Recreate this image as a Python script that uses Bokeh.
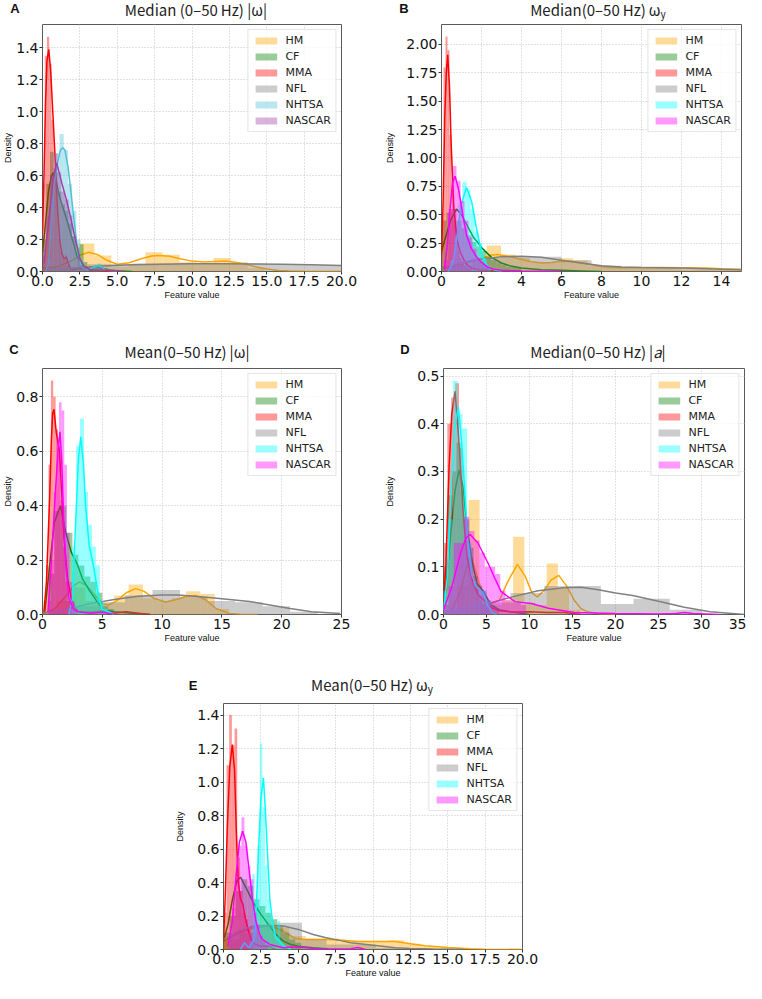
from bokeh.plotting import figure
from bokeh.models import Range1d, FixedTicker, PrintfTickFormatter, Legend, LegendItem, Div
from bokeh.layouts import column, row, Spacer
from bokeh.embed import file_html
from bokeh.resources import INLINE

SERIES = ["HM", "CF", "MMA", "NFL", "NHTSA", "NASCAR"]
COLORS_A = ["#FFA500", "#008000", "#FF0000", "#808080", "#4FC1D6", "#A040A8"]
COLORS = ["#FFA500", "#008000", "#FF0000", "#808080", "#00FFFF", "#FF00FF"]

# ---------------- Panel A : Median (0-50 Hz) |w| ----------------
A_XTICKS = [0, 2.5, 5, 7.5, 10, 12.5, 15, 17.5, 20]
A_YTICKS = [0, 0.2, 0.4, 0.6, 0.8, 1.0, 1.2, 1.4]
A_HM_edges = [0.05, 1.19, 2.33, 3.47, 4.61, 5.75, 6.89, 8.03, 9.17, 10.31, 11.45, 12.59, 13.73, 14.87]
A_HM_hist = [0.01, 0.03, 0.175, 0.10, 0.03, 0.04, 0.12, 0.105, 0.06, 0.05, 0.085, 0.06, 0.02]
A_HM_kx = [0, 1, 2, 2.6, 3.1, 3.7, 4.3, 5.0, 5.8, 6.6, 7.3, 7.8, 8.5, 9.2, 10.0, 10.8, 11.6, 12.2, 12.9, 13.6, 14.3, 15.0, 15.8, 16.5, 17.5, 20]
A_HM_ky = [0.02, 0.03, 0.07, 0.105, 0.12, 0.105, 0.07, 0.045, 0.055, 0.08, 0.097, 0.1, 0.095, 0.08, 0.065, 0.06, 0.063, 0.065, 0.058, 0.045, 0.028, 0.015, 0.007, 0.003, 0.001, 0.0]
A_CF_edges = [0, 0.25, 0.5, 0.75, 1.0, 1.25, 1.5, 1.75, 2.0, 2.25, 2.5, 2.75, 3.0, 3.25, 3.5, 3.75, 4.0]
A_CF_hist = [0.2, 0.55, 0.75, 0.62, 0.5, 0.42, 0.38, 0.3, 0.22, 0.15, 0.17, 0.06, 0.02, 0.02, 0.04, 0.04]
A_CF_kx = [0, 0.2, 0.4, 0.6, 0.75, 0.9, 1.1, 1.3, 1.5, 1.7, 1.9, 2.1, 2.3, 2.5, 2.8, 3.2, 3.6, 4.0, 4.5, 5.0, 6.0]
A_CF_ky = [0.12, 0.3, 0.5, 0.6, 0.62, 0.58, 0.48, 0.42, 0.36, 0.3, 0.23, 0.17, 0.1, 0.06, 0.03, 0.02, 0.025, 0.02, 0.01, 0.005, 0.0]
A_MMA_edges = [0, 0.15, 0.3, 0.45, 0.6, 0.75, 0.9, 1.05, 1.2, 1.35, 1.5, 1.65, 1.8, 1.95]
A_MMA_hist = [0.55, 1.35, 1.47, 1.3, 0.95, 0.65, 0.45, 0.2, 0.12, 0.08, 0.1, 0.04, 0.02]
A_MMA_kx = [0, 0.1, 0.2, 0.3, 0.42, 0.55, 0.7, 0.85, 1.0, 1.15, 1.3, 1.45, 1.6, 1.7, 1.85, 2.0, 2.5, 3.0, 3.5, 4.0, 5.0]
A_MMA_ky = [0.25, 0.6, 1.05, 1.32, 1.39, 1.25, 0.98, 0.7, 0.4, 0.2, 0.11, 0.08, 0.09, 0.06, 0.02, 0.01, 0.02, 0.01, 0.01, 0.0, 0.0]
A_NFL_edges = [0, 3, 6, 9, 12, 15, 18, 21]
A_NFL_hist = [0.02, 0.045, 0.05, 0.05, 0.05, 0.045, 0.04]
A_NFL_kx = [0, 2, 4, 6, 8, 10, 12, 14, 16, 18, 20]
A_NFL_ky = [0.01, 0.02, 0.035, 0.043, 0.046, 0.048, 0.048, 0.047, 0.045, 0.042, 0.038]
A_NHTSA_edges = [0.3, 0.58, 0.86, 1.14, 1.42, 1.7, 1.98, 2.26, 2.54, 2.82, 3.1, 3.38, 3.66, 3.94]
A_NHTSA_hist = [0.08, 0.45, 0.74, 0.86, 0.76, 0.55, 0.38, 0.2, 0.06, 0.02, 0.0, 0.04, 0.05]
A_NHTSA_kx = [0.2, 0.4, 0.6, 0.8, 1.0, 1.2, 1.36, 1.5, 1.7, 1.9, 2.1, 2.3, 2.5, 2.7, 3.0, 3.5, 3.8, 4.2, 5.0]
A_NHTSA_ky = [0.0, 0.05, 0.3, 0.55, 0.68, 0.76, 0.775, 0.76, 0.66, 0.5, 0.33, 0.17, 0.06, 0.02, 0.01, 0.03, 0.04, 0.01, 0.0]
A_NASCAR_edges = [0, 0.25, 0.5, 0.75, 1.0, 1.25, 1.5, 1.75, 2.0, 2.25, 2.5, 2.75, 3.0]
A_NASCAR_hist = [0.1, 0.35, 0.6, 0.74, 0.62, 0.5, 0.45, 0.35, 0.22, 0.1, 0.04, 0.02]
A_NASCAR_kx = [0.1, 0.4, 0.7, 0.95, 1.3, 1.6, 1.9, 2.2, 2.5, 2.8, 3.2, 4.0, 5.5]
A_NASCAR_ky = [0.05, 0.3, 0.58, 0.68, 0.55, 0.45, 0.33, 0.2, 0.08, 0.03, 0.01, 0.01, 0.0]

# ---------------- Panel B : Median (0-50 Hz) w_y ----------------
B_XTICKS = [0, 2, 4, 6, 8, 10, 12, 14]
B_YTICKS = [0, 0.25, 0.5, 0.75, 1.0, 1.25, 1.5, 1.75, 2.0]
B_HM_edges = [0.1, 0.82, 1.54, 2.26, 2.98, 3.7, 4.42, 5.14, 5.86, 6.58, 7.3, 8.02, 8.74, 9.46, 10.18, 10.9, 11.62, 12.34, 13.06, 13.78, 14.5, 15.22]
B_HM_hist = [0.05, 0.06, 0.1, 0.23, 0.15, 0.12, 0.08, 0.08, 0.117, 0.1, 0.05, 0.04, 0.04, 0.035, 0.035, 0.035, 0.02, 0.02, 0.02, 0.02, 0.015]
B_HM_kx = [0, 0.5, 1.0, 1.8, 2.5, 2.8, 3.3, 3.9, 4.5, 5.05, 5.5, 6.0, 6.5, 7.0, 7.6, 8.3, 9.0, 9.9, 11.0, 12.0, 13.2, 14.0, 15.0]
B_HM_ky = [0.03, 0.045, 0.06, 0.1, 0.145, 0.15, 0.135, 0.11, 0.085, 0.075, 0.08, 0.09, 0.088, 0.075, 0.055, 0.038, 0.034, 0.035, 0.035, 0.034, 0.03, 0.025, 0.02]
B_CF_edges = [0, 0.25, 0.5, 0.75, 1.0, 1.25, 1.5, 1.75, 2.0, 2.25, 2.5, 2.75, 3.0, 3.25, 3.5, 3.75, 4.0]
B_CF_hist = [0.45, 0.52, 0.55, 0.45, 0.38, 0.32, 0.26, 0.22, 0.18, 0.13, 0.1, 0.08, 0.06, 0.04, 0.04, 0.03]
B_CF_kx = [0, 0.2, 0.45, 0.75, 1.0, 1.3, 1.6, 1.8, 2.0, 2.5, 3.0, 3.4, 4.0, 5.0, 6.0, 7.0, 8.0]
B_CF_ky = [0.18, 0.3, 0.45, 0.55, 0.5, 0.4, 0.3, 0.26, 0.21, 0.125, 0.075, 0.05, 0.03, 0.015, 0.01, 0.005, 0.0]
B_MMA_edges = [0, 0.1, 0.2, 0.3, 0.4, 0.5, 0.6, 0.7, 0.8, 0.9, 1.0, 1.1, 1.2, 1.3, 1.4, 1.5]
B_MMA_hist = [0.5, 1.8, 2.07, 1.95, 1.2, 0.8, 0.45, 0.25, 0.18, 0.12, 0.08, 0.05, 0.04, 0.03, 0.02]
B_MMA_kx = [0, 0.08, 0.16, 0.24, 0.31, 0.4, 0.48, 0.61, 0.77, 0.94, 1.1, 1.27, 1.5, 2.0, 2.5, 3.0]
B_MMA_ky = [0.15, 0.6, 1.34, 1.75, 1.91, 1.63, 1.14, 0.58, 0.28, 0.17, 0.11, 0.06, 0.03, 0.01, 0.01, 0.0]
B_NFL_edges = [0, 1.5, 3.0, 4.5, 6.0, 7.5, 9.0, 10.5, 12.0, 13.5, 15.0]
B_NFL_hist = [0.05, 0.12, 0.13, 0.13, 0.1, 0.05, 0.04, 0.03, 0.02, 0.015]
B_NFL_kx = [0, 1, 2, 3, 4, 5, 6, 7, 8, 9, 10, 12, 14, 15]
B_NFL_ky = [0.02, 0.08, 0.11, 0.13, 0.135, 0.125, 0.1, 0.075, 0.05, 0.04, 0.035, 0.03, 0.02, 0.015]
B_NHTSA_edges = [0.25, 0.45, 0.65, 0.85, 1.05, 1.25, 1.45, 1.65, 1.85, 2.05, 2.25, 2.45]
B_NHTSA_hist = [0.02, 0.1, 0.3, 0.6, 0.79, 0.72, 0.55, 0.35, 0.25, 0.12, 0.05]
B_NHTSA_kx = [0.35, 0.6, 0.8, 1.0, 1.25, 1.5, 1.75, 2.0, 2.2, 2.4, 2.7, 3.0]
B_NHTSA_ky = [0.0, 0.1, 0.35, 0.6, 0.74, 0.62, 0.38, 0.17, 0.07, 0.03, 0.01, 0.0]
B_NASCAR_edges = [0.15, 0.35, 0.55, 0.75, 0.95, 1.15, 1.35, 1.55, 1.75, 1.95, 2.15, 2.35]
B_NASCAR_hist = [0.1, 0.55, 0.93, 0.8, 0.62, 0.45, 0.3, 0.2, 0.12, 0.08, 0.05]
B_NASCAR_kx = [0.15, 0.3, 0.4, 0.55, 0.68, 0.86, 1.1, 1.27, 1.5, 1.75, 2.0, 2.3, 2.6, 3.0, 4.0, 6.0]
B_NASCAR_ky = [0.02, 0.25, 0.5, 0.78, 0.84, 0.72, 0.46, 0.31, 0.2, 0.13, 0.08, 0.04, 0.02, 0.01, 0.005, 0.0]

# ---------------- Panel C : Mean (0-50 Hz) |w| ----------------
C_XTICKS = [0, 5, 10, 15, 20, 25]
C_YTICKS = [0, 0.2, 0.4, 0.6, 0.8]
C_HM_edges = [0, 1.2, 2.4, 3.6, 4.8, 6.0, 7.2, 8.4, 9.6, 10.8, 12.0, 13.2, 14.4, 15.6]
C_HM_hist = [0.01, 0.05, 0.1, 0.05, 0.04, 0.07, 0.11, 0.06, 0.05, 0.06, 0.085, 0.075, 0.02]
C_HM_kx = [0, 1, 2, 2.6, 3.1, 3.7, 4.4, 5.0, 5.5, 6.2, 7.0, 7.8, 8.5, 9.3, 10.3, 11.2, 12.0, 12.8, 13.6, 14.5, 15.6, 16.5, 18]
C_HM_ky = [0.0, 0.02, 0.07, 0.105, 0.12, 0.105, 0.07, 0.04, 0.035, 0.05, 0.08, 0.095, 0.085, 0.06, 0.046, 0.055, 0.066, 0.07, 0.055, 0.022, 0.004, 0.001, 0.0]
C_CF_edges = [0.5, 1.0, 1.5, 2.0, 2.5, 3.0, 3.5, 4.0, 4.5, 5.0, 5.5, 6.0]
C_CF_hist = [0.15, 0.38, 0.4, 0.3, 0.22, 0.18, 0.14, 0.12, 0.08, 0.03, 0.02]
C_CF_kx = [0.19, 0.6, 1.0, 1.5, 1.95, 2.4, 2.95, 3.35, 4.0, 4.6, 5.2, 6.0, 7.5, 9.0]
C_CF_ky = [0.01, 0.18, 0.34, 0.4, 0.3, 0.23, 0.18, 0.13, 0.083, 0.045, 0.015, 0.01, 0.005, 0.0]
C_MMA_edges = [0.1, 0.3, 0.5, 0.7, 0.9, 1.1, 1.3, 1.5, 1.7, 1.9, 2.1, 2.3, 2.5]
C_MMA_hist = [0.05, 0.18, 0.55, 0.86, 0.8, 0.68, 0.62, 0.42, 0.25, 0.12, 0.05, 0.03]
C_MMA_kx = [0.1, 0.33, 0.6, 0.74, 0.85, 0.96, 1.15, 1.3, 1.42, 1.6, 1.8, 2.1, 2.4, 2.7, 3.0, 4.0, 5.0, 6.0, 7.0, 8.0, 9.0]
C_MMA_ky = [0.0, 0.12, 0.43, 0.64, 0.74, 0.754, 0.67, 0.63, 0.6, 0.45, 0.28, 0.133, 0.06, 0.025, 0.01, 0.008, 0.012, 0.005, 0.01, 0.005, 0.0]
C_NFL_edges = [0, 2.3, 4.6, 6.9, 9.2, 11.5, 13.8, 16.1, 18.4, 20.7, 23.0]
C_NFL_hist = [0.01, 0.03, 0.045, 0.07, 0.09, 0.065, 0.05, 0.045, 0.03, 0.01]
C_NFL_kx = [0, 2, 4, 6, 8, 10, 11.3, 13, 15, 17.3, 19, 20.7, 22.5, 24.9]
C_NFL_ky = [0.005, 0.02, 0.04, 0.055, 0.067, 0.072, 0.072, 0.066, 0.058, 0.048, 0.035, 0.022, 0.01, 0.004]
C_NHTSA_edges = [2.15, 2.48, 2.81, 3.14, 3.47, 3.8, 4.13, 4.46, 4.79, 5.12, 5.45]
C_NHTSA_hist = [0.02, 0.25, 0.62, 0.72, 0.45, 0.33, 0.25, 0.18, 0.05, 0.02]
C_NHTSA_kx = [2.2, 2.5, 2.8, 3.0, 3.2, 3.43, 3.6, 3.9, 4.3, 4.7, 5.0, 5.5, 6.0]
C_NHTSA_ky = [0.0, 0.06, 0.365, 0.57, 0.653, 0.55, 0.4, 0.255, 0.17, 0.06, 0.02, 0.01, 0.0]
C_NASCAR_edges = [0.5, 0.72, 0.94, 1.16, 1.38, 1.6, 1.82, 2.04, 2.26, 2.48, 2.7, 2.92]
C_NASCAR_hist = [0.05, 0.2, 0.45, 0.65, 0.78, 0.75, 0.55, 0.3, 0.12, 0.05, 0.02]
C_NASCAR_kx = [0.46, 0.74, 1.01, 1.29, 1.46, 1.6, 1.76, 1.95, 2.2, 2.6, 3.0, 4.0, 5.0, 6.0]
C_NASCAR_ky = [0.01, 0.19, 0.4, 0.6, 0.671, 0.575, 0.365, 0.18, 0.06, 0.02, 0.01, 0.005, 0.008, 0.0]

# ---------------- Panel D : Median (0-50 Hz) |a| ----------------
D_XTICKS = [0, 5, 10, 15, 20, 25, 30, 35]
D_YTICKS = [0, 0.1, 0.2, 0.3, 0.4, 0.5]
D_HM_edges = [0.3, 1.6, 2.9, 4.2, 5.5, 6.8, 8.1, 9.4, 10.7, 12.0, 13.3, 14.6, 15.9]
D_HM_hist = [0.01, 0.06, 0.24, 0.03, 0.02, 0.03, 0.163, 0.025, 0.02, 0.107, 0.055, 0.01]
D_HM_kx = [0, 1, 2, 2.7, 3.3, 4.0, 4.8, 5.5, 6.5, 7.5, 8.6, 9.5, 10.3, 10.9, 11.7, 12.5, 13.4, 14.3, 15.2, 16.0, 16.7, 18.0, 20.0]
D_HM_ky = [0.0, 0.01, 0.05, 0.1, 0.118, 0.075, 0.03, 0.022, 0.03, 0.07, 0.105, 0.08, 0.045, 0.037, 0.05, 0.072, 0.082, 0.06, 0.03, 0.012, 0.006, 0.002, 0.0]
D_CF_edges = [0, 0.5, 1.0, 1.5, 2.0, 2.5, 3.0, 3.5, 4.0, 4.5, 5.0, 5.5, 6.0, 6.5]
D_CF_hist = [0.1, 0.25, 0.3, 0.36, 0.26, 0.2, 0.14, 0.08, 0.06, 0.05, 0.03, 0.02, 0.01]
D_CF_kx = [0, 0.27, 0.84, 1.34, 1.8, 2.26, 2.76, 3.34, 3.9, 4.6, 5.5, 6.5, 8.0, 10.0]
D_CF_ky = [0.02, 0.05, 0.17, 0.26, 0.303, 0.27, 0.18, 0.11, 0.065, 0.05, 0.02, 0.01, 0.005, 0.0]
D_MMA_edges = [0, 0.45, 0.9, 1.35, 1.8, 2.25, 2.7, 3.15, 3.6, 4.05, 4.5, 4.95, 5.4]
D_MMA_hist = [0.15, 0.4, 0.455, 0.485, 0.35, 0.2, 0.12, 0.08, 0.06, 0.04, 0.02, 0.015]
D_MMA_kx = [0, 0.27, 0.65, 0.96, 1.34, 1.73, 2.0, 2.38, 2.76, 3.15, 3.53, 4.1, 4.7, 5.5, 6.5, 8.0, 10.0, 12.0, 14.0, 16.0]
D_MMA_ky = [0.03, 0.1, 0.31, 0.42, 0.468, 0.38, 0.3, 0.19, 0.12, 0.085, 0.06, 0.04, 0.03, 0.015, 0.008, 0.005, 0.006, 0.004, 0.004, 0.0]
D_NFL_edges = [0, 3.9, 7.8, 11.7, 14.9, 18.3, 22.1, 26.3, 30.1]
D_NFL_hist = [0.008, 0.025, 0.045, 0.06, 0.06, 0.022, 0.033, 0.01]
D_NFL_kx = [0, 2, 5, 8, 11, 14, 16, 18, 20, 22, 25, 28, 31, 35]
D_NFL_ky = [0.003, 0.01, 0.022, 0.037, 0.05, 0.056, 0.057, 0.052, 0.045, 0.04, 0.028, 0.015, 0.006, 0.0]
D_NHTSA_edges = [0.0, 0.55, 1.1, 1.65, 2.2, 2.75, 3.3, 3.85, 4.4, 4.95, 5.5]
D_NHTSA_hist = [0.05, 0.2, 0.49, 0.42, 0.39, 0.15, 0.07, 0.05, 0.05, 0.03]
D_NHTSA_kx = [0, 0.46, 0.84, 1.23, 1.73, 2.11, 2.5, 2.88, 3.26, 3.72, 4.3, 4.6, 5.1, 5.7, 6.2]
D_NHTSA_ky = [0.01, 0.08, 0.25, 0.385, 0.436, 0.36, 0.25, 0.146, 0.085, 0.06, 0.05, 0.045, 0.02, 0.003, 0.0]
D_NASCAR_edges = [0, 0.6, 1.2, 1.8, 2.4, 3.0, 3.6, 4.2, 4.8, 5.4, 6.0, 6.6, 7.2, 7.8, 8.4, 9.0, 9.6]
D_NASCAR_hist = [0.02, 0.06, 0.15, 0.15, 0.205, 0.175, 0.155, 0.13, 0.1, 0.1, 0.085, 0.05, 0.03, 0.025, 0.025, 0.02]
D_NASCAR_kx = [0, 1, 2, 2.6, 3.1, 4.0, 5.2, 6.0, 6.7, 8.3, 10.2, 12.2, 15.2, 20, 25, 27, 28, 29, 32]
D_NASCAR_ky = [0.01, 0.06, 0.13, 0.16, 0.168, 0.15, 0.107, 0.075, 0.048, 0.027, 0.023, 0.013, 0.004, 0.002, 0.001, 0.002, 0.004, 0.002, 0.0]

# ---------------- Panel E : Mean (0-50 Hz) w_y ----------------
E_XTICKS = [0, 2.5, 5, 7.5, 10, 12.5, 15, 17.5, 20]
E_YTICKS = [0, 0.2, 0.4, 0.6, 0.8, 1.0, 1.2, 1.4]
E_HM_edges = [0, 1.1, 2.2, 3.3, 4.4, 5.5, 6.6, 7.7, 8.8, 9.9, 11.0, 12.1, 13.2, 14.3, 15.4, 16.5]
E_HM_hist = [0.06, 0.1, 0.14, 0.13, 0.08, 0.065, 0.065, 0.05, 0.045, 0.05, 0.055, 0.035, 0.02, 0.01, 0.005]
E_HM_kx = [0, 1, 2, 3, 3.5, 4.2, 4.8, 5.5, 7, 8, 9, 10, 11.5, 12.5, 13.5, 15, 16.5, 17.5, 20]
E_HM_ky = [0.05, 0.1, 0.13, 0.14, 0.13, 0.1, 0.065, 0.06, 0.06, 0.055, 0.048, 0.048, 0.048, 0.035, 0.022, 0.012, 0.005, 0.002, 0.0]
E_CF_edges = [0, 0.4, 0.8, 1.2, 1.6, 2.0, 2.4, 2.8, 3.2, 3.6, 4.0, 4.4, 4.8, 5.2]
E_CF_hist = [0.1, 0.2, 0.35, 0.42, 0.38, 0.3, 0.26, 0.22, 0.18, 0.14, 0.1, 0.06, 0.04]
E_CF_kx = [0, 0.3, 0.6, 0.9, 1.14, 1.5, 2.0, 2.5, 3.0, 3.5, 4.0, 4.5, 5.0, 6.0, 7.0]
E_CF_ky = [0.05, 0.15, 0.3, 0.41, 0.432, 0.37, 0.28, 0.21, 0.15, 0.09, 0.05, 0.03, 0.02, 0.01, 0.005]
E_MMA_edges = [0.02, 0.2, 0.38, 0.56, 0.74, 0.92, 1.1, 1.28, 1.46, 1.64, 1.82, 2.0]
E_MMA_hist = [0.22, 1.1, 1.4, 1.22, 1.32, 0.55, 0.35, 0.22, 0.18, 0.12, 0.05]
E_MMA_kx = [0, 0.11, 0.26, 0.42, 0.59, 0.74, 0.86, 0.99, 1.14, 1.3, 1.43, 1.58, 1.7, 1.9, 2.13, 2.5, 3.0, 3.5]
E_MMA_ky = [0.05, 0.3, 0.74, 1.09, 1.224, 1.07, 0.7, 0.4, 0.3, 0.27, 0.2, 0.14, 0.1, 0.05, 0.03, 0.02, 0.02, 0.0]
E_NFL_edges = [0.3, 1.95, 3.6, 5.25, 6.9, 8.55, 10.2, 11.85]
E_NFL_hist = [0.1, 0.14, 0.16, 0.06, 0.03, 0.03, 0.01]
E_NFL_kx = [0, 1, 2, 3, 4, 5, 6, 6.8, 8, 8.5, 10, 11.5, 12.5, 14, 16]
E_NFL_ky = [0.06, 0.11, 0.14, 0.145, 0.14, 0.12, 0.09, 0.072, 0.05, 0.04, 0.025, 0.01, 0.006, 0.003, 0.001]
E_NHTSA_edges = [1.75, 1.92, 2.09, 2.26, 2.43, 2.6, 2.77, 2.94, 3.11, 3.28, 3.45, 3.62, 3.79, 3.96, 4.13]
E_NHTSA_hist = [0.05, 0.45, 0.3, 0.62, 1.23, 0.85, 0.5, 0.3, 0.2, 0.12, 0.08, 0.17, 0.05, 0.03]
E_NHTSA_kx = [1.14, 1.4, 1.7, 2.07, 2.17, 2.35, 2.5, 2.67, 2.8, 2.96, 3.1, 3.3, 3.5, 3.83, 4.05, 4.5]
E_NHTSA_ky = [0.0, 0.04, 0.01, 0.06, 0.2, 0.6, 0.9, 1.025, 0.83, 0.54, 0.3, 0.15, 0.07, 0.04, 0.02, 0.0]
E_NASCAR_edges = [0.4, 0.6, 0.8, 1.0, 1.2, 1.4, 1.6, 1.8, 2.0, 2.2, 2.4, 2.6, 2.8, 3.0]
E_NASCAR_hist = [0.1, 0.25, 0.45, 0.62, 0.79, 0.62, 0.5, 0.42, 0.22, 0.15, 0.08, 0.05, 0.03]
E_NASCAR_kx = [0.3, 0.59, 0.81, 1.06, 1.28, 1.5, 1.72, 1.95, 2.17, 2.4, 2.6, 3.1, 4.0, 4.5, 5.5, 6.5, 8.5, 9.0, 9.5]
E_NASCAR_ky = [0.02, 0.17, 0.41, 0.64, 0.706, 0.64, 0.47, 0.29, 0.17, 0.095, 0.06, 0.03, 0.01, 0.015, 0.01, 0.003, 0.005, 0.012, 0.0]

SUB = "<sub style=\"font-size:10px;line-height:0;vertical-align:-2px;\">y</sub>"
TITLES = {
    "A": "Median (0\u201350\u2009Hz) |\u03c9|",
    "B": "Median(0\u201350\u2009Hz)\u2009\u03c9" + SUB,
    "C": "Mean(0\u201350\u2009Hz)\u2009|\u03c9|",
    "D": "Median(0\u201350\u2009Hz)\u2009|<i>a</i>|",
    "E": "Mean(0\u201350\u2009Hz)\u2009\u03c9" + SUB,
}


def series_of(prefix):
    g = globals()
    return [(g[f"{prefix}_{s}_edges"], g[f"{prefix}_{s}_hist"],
             g[f"{prefix}_{s}_kx"], g[f"{prefix}_{s}_ky"]) for s in SERIES]


def panel(prefix, colors, xr, yr, xticks, yticks, xfmt, yfmt,
          left, fw, right, top, fh, bottom, dens_standoff):
    p = figure(width=left + fw + right, height=top + fh + bottom,
               x_range=Range1d(*xr), y_range=Range1d(*yr),
               min_border_left=left, min_border_right=right,
               min_border_top=top, min_border_bottom=bottom,
               output_backend="svg", toolbar_location=None, title=None)
    items = []
    for (edges, hist, kx, ky), name, col in zip(series_of(prefix), SERIES, colors):
        n = min(len(edges) - 1, len(hist))
        q = p.quad(left=edges[:n], right=edges[1:n + 1], top=hist[:n], bottom=0,
                   fill_color=col, fill_alpha=0.4, line_color=None)
        m = min(len(kx), len(ky))
        p.line(kx[:m], ky[:m], line_color=col, line_width=1.5)
        items.append(LegendItem(label=name, renderers=[q]))

    leg = Legend(items=items, location="top_right", margin=5, padding=4,
                 spacing=3, glyph_width=27, glyph_height=9, label_height=12,
                 label_standoff=6, label_text_font="DejaVu Sans",
                 label_text_font_size="11px", label_text_color="#222222",
                 border_line_color="#cccccc", border_line_width=1,
                 background_fill_color="white", background_fill_alpha=0.8)
    p.add_layout(leg)

    xt = FixedTicker(ticks=xticks)
    yt = FixedTicker(ticks=yticks)
    p.xaxis.ticker = xt
    p.yaxis.ticker = yt
    p.xgrid.ticker = xt
    p.ygrid.ticker = yt
    p.xaxis.formatter = PrintfTickFormatter(format=xfmt)
    p.yaxis.formatter = PrintfTickFormatter(format=yfmt)
    for ax in (p.xaxis[0], p.yaxis[0]):
        ax.axis_line_color = None
        ax.major_tick_in = 0
        ax.major_tick_out = 3
        ax.major_tick_line_color = "#333333"
        ax.minor_tick_line_color = None
        ax.major_label_standoff = 1
        ax.major_label_text_font = "DejaVu Sans"
        ax.major_label_text_font_size = "14px"
        ax.major_label_text_color = "#111111"
        ax.axis_label_text_font = "Liberation Sans"
        ax.axis_label_text_font_size = "9px"
        ax.axis_label_text_font_style = "normal"
        ax.axis_label_text_color = "#111111"
    p.xaxis.axis_label = "Feature value"
    p.xaxis.axis_label_standoff = 1
    p.yaxis.axis_label = "Density"
    p.yaxis.axis_label_standoff = dens_standoff

    for g in (p.xgrid[0], p.ygrid[0]):
        g.grid_line_color = "#c4c4c4"
        g.grid_line_dash = "1 2"
        g.grid_line_width = 1
    p.outline_line_color = "#5a5a5a"
    p.outline_line_width = 1
    return p


def header(height, entries):
    """entries: (kind, text, centre x on page, centre y within the strip)"""
    spans = []
    for kind, text, cx, cy in entries:
        if kind == "letter":
            font = "font-family:'Liberation Sans',Arial,sans-serif;font-weight:bold;font-size:13px;color:#111;"
        else:
            font = "font-family:'Noto Sans CJK SC','Noto Sans',sans-serif;font-size:15px;color:#222;"
        spans.append(
            f"<span style=\"position:absolute;left:{cx - 8}px;top:{cy}px;"
            f"transform:translate(-50%,-50%);white-space:nowrap;line-height:16px;{font}\">{text}</span>")
    html = (f"<div style=\"position:relative;width:746px;height:{height}px;\">"
            + "".join(spans) + "</div>")
    return Div(text=html, width=746, height=height, margin=0)


pA = panel("A", COLORS_A, (0, 20), (0, 1.546), A_XTICKS, A_YTICKS, "%.1f", "%.1f",
           37, 304, 41, 3, 247, 61, 0)
pB = panel("B", COLORS, (0, 15), (0, 2.176), B_XTICKS, B_YTICKS, "%d", "%.2f",
           55, 304, 5, 3, 247, 61, 8)
pC = panel("C", COLORS, (0, 25), (0, 0.904), C_XTICKS, C_YTICKS, "%d", "%.1f",
           37, 304, 41, 3, 246, 53, 0)
pD = panel("D", COLORS, (0, 35), (0, 0.516), D_XTICKS, D_YTICKS, "%d", "%.1f",
           59, 303, 2, 3, 246, 53, 19)
pE = panel("E", COLORS, (0, 20), (0, 1.469), E_XTICKS, E_YTICKS, "%.1f", "%.1f",
           46, 304, 20, 3, 246, 34, 9)

h1 = header(21, [("letter", "A", 23, 9), ("title", TITLES["A"], 204, 10),
                 ("letter", "B", 412, 9), ("title", TITLES["B"], 606, 10)])
h2 = header(33, [("letter", "C", 22, 18), ("title", TITLES["C"], 195, 20),
                 ("letter", "D", 413, 18), ("title", TITLES["D"], 606, 20)])
h3 = header(33, [("letter", "E", 201, 19), ("title", TITLES["E"], 380, 18)])

layout = column(h1, row(pA, pB), h2, row(pC, pD), h3,
                row(Spacer(width=172, height=283), pE))

open("out.html", "w").write(file_html(layout, INLINE))
